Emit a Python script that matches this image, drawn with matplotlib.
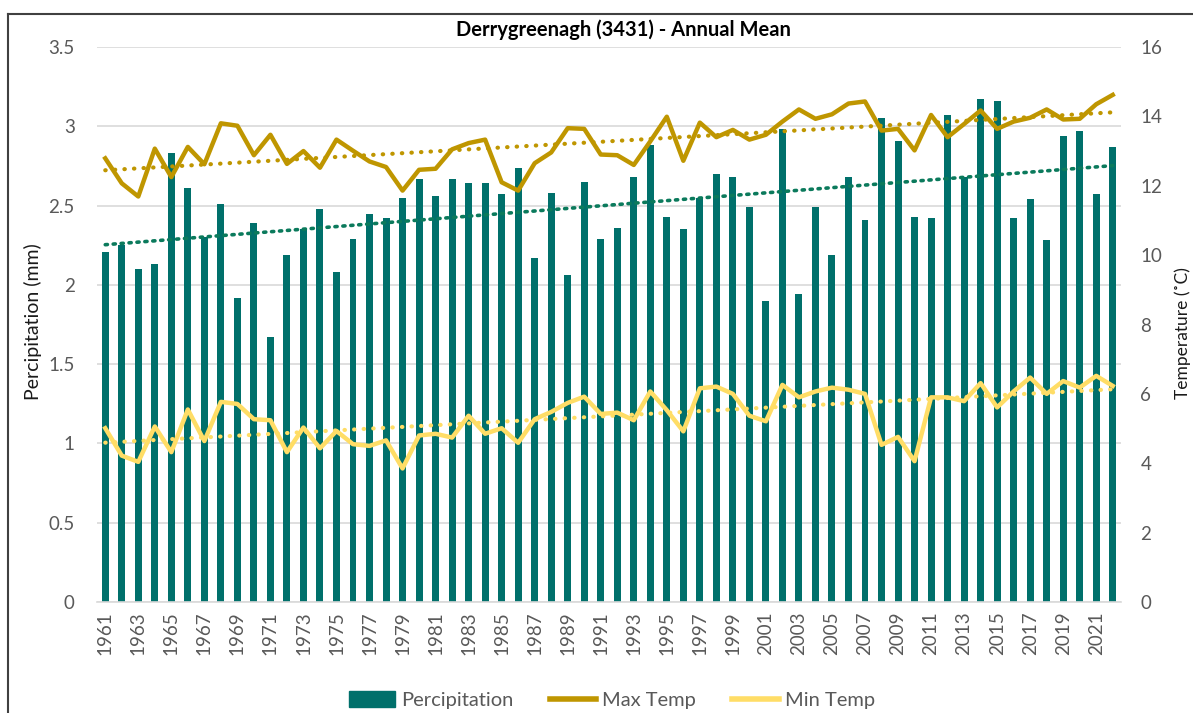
import numpy as np
import matplotlib
matplotlib.use('Agg')
import matplotlib.pyplot as plt
from matplotlib.lines import Line2D
from matplotlib.patches import Patch

years = list(range(1961, 2023))
precip = [2.21, 2.25, 2.10, 2.13, 2.83, 2.61, 2.30, 2.51, 1.92, 2.39,
          1.67, 2.19, 2.35, 2.48, 2.08, 2.29, 2.45, 2.42, 2.55, 2.67,
          2.56, 2.67, 2.64, 2.64, 2.57, 2.74, 2.17, 2.58, 2.06, 2.65,
          2.29, 2.36, 2.68, 2.88, 2.43, 2.35, 2.55, 2.70, 2.68, 2.49,
          1.90, 2.98, 1.94, 2.49, 2.19, 2.68, 2.41, 3.05, 2.91, 2.43,
          2.42, 3.07, 2.68, 3.17, 3.16, 2.42, 2.54, 2.28, 2.94, 2.97,
          2.57, 2.87]
max_temp = [12.79, 12.07, 11.69, 13.07, 12.25, 13.12, 12.62, 13.80, 13.73, 12.88,
            13.47, 12.63, 13.00, 12.52, 13.33, 13.01, 12.70, 12.54, 11.86, 12.46,
            12.49, 13.05, 13.23, 13.33, 12.10, 11.86, 12.65, 12.96, 13.66, 13.64,
            12.90, 12.88, 12.60, 13.28, 13.99, 12.72, 13.82, 13.40, 13.61, 13.33,
            13.47, 13.85, 14.20, 13.93, 14.06, 14.37, 14.43, 13.59, 13.64, 13.02,
            14.04, 13.40, 13.78, 14.17, 13.64, 13.85, 13.96, 14.20, 13.91, 13.93,
            14.35, 14.62]
min_temp = [5.01, 4.22, 4.04, 5.06, 4.32, 5.55, 4.64, 5.77, 5.71, 5.27,
            5.24, 4.32, 5.03, 4.43, 4.93, 4.55, 4.50, 4.66, 3.85, 4.80,
            4.85, 4.74, 5.37, 4.85, 5.01, 4.59, 5.27, 5.48, 5.74, 5.92,
            5.42, 5.46, 5.24, 6.07, 5.53, 4.92, 6.16, 6.21, 6.00, 5.37,
            5.21, 6.26, 5.90, 6.07, 6.18, 6.12, 6.00, 4.53, 4.76, 4.06,
            5.90, 5.90, 5.79, 6.31, 5.61, 6.07, 6.47, 6.00, 6.37, 6.18,
            6.52, 6.23]
left_ticks = [0, 0.5, 1, 1.5, 2, 2.5, 3, 3.5]
left_tick_labels = ['0', '0.5', '1', '1.5', '2', '2.5', '3', '3.5']
right_ticks = [0, 2, 4, 6, 8, 10, 12, 14, 16]

title = 'Derrygreenagh (3431) - Annual Mean'

C_BAR = '#00706B'
C_PTREND = '#0B7A5C'
C_MAX = '#BF9600'
C_MIN = '#FFDD66'
C_TICK = '#595959'

plt.rcParams['font.family'] = ['Lato', 'DejaVu Sans']

W, H = 1193, 713
fig = plt.figure(figsize=(W / 100, H / 100), dpi=100)
L, R, T, B = 97, 1121, 47, 602
ax = fig.add_axes([L / W, 1 - B / H, (R - L) / W, (B - T) / H])

x = np.arange(len(years))
ax.bar(x, precip, width=0.42, color=C_BAR, zorder=2)
p = np.polyfit(x, precip, 1)
ax.plot(x, np.polyval(p, x), color=C_PTREND, lw=2.6, ls=(0, (0.6, 1.6)),
        dash_capstyle='round', zorder=3)
ax.set_ylim(0, 3.5)
ax.set_yticks(left_ticks)
ax.set_yticklabels(left_tick_labels)
ax.set_xlim(-0.5, len(years) - 0.5)
ax.set_xticks(x[::2])
ax.set_xticklabels([str(y) for y in years[::2]], rotation=90)
ax.grid(axis='y', color='#d9d9d9', lw=1.2, zorder=0)
ax.set_axisbelow(True)
for s in ['top', 'left', 'right']:
    ax.spines[s].set_visible(False)
ax.spines['bottom'].set_color('#d9d9d9')
ax.spines['bottom'].set_linewidth(1.2)
ax.tick_params(axis='y', length=0, colors=C_TICK, labelsize=13.5, pad=16)
ax.tick_params(axis='x', length=0, colors=C_TICK, labelsize=13.5, pad=7)

ax2 = ax.twinx()
ax2.set_ylim(0, 16)
ax2.set_yticks(right_ticks)
for s in ['top', 'left', 'right', 'bottom']:
    ax2.spines[s].set_visible(False)
ax2.tick_params(axis='y', length=0, colors=C_TICK, labelsize=13.5, pad=14)
ax2.plot(x, max_temp, color=C_MAX, lw=3.2, zorder=4)
ax2.plot(x, min_temp, color=C_MIN, lw=3.2, zorder=4)
pm = np.polyfit(x, max_temp, 1)
pn = np.polyfit(x, min_temp, 1)
ax2.plot(x, np.polyval(pm, x), color=C_MAX, lw=3, ls=(0, (0.1, 2.2)),
         dash_capstyle='round', zorder=3)
ax2.plot(x, np.polyval(pn, x), color=C_MIN, lw=3, ls=(0, (0.1, 2.2)),
         dash_capstyle='round', zorder=3)

fig.text(623 / W, 1 - 30 / H, title, ha='center', va='center',
         fontsize=14.5, fontweight='bold', color='#000000')
fig.text(33 / W, 1 - 322 / H, 'Percipitation (mm)', rotation=90,
         ha='center', va='center', fontsize=14, color='#1a1a1a')
fig.text(1183 / W, 1 - 333 / H, 'Temperature (˚C)', rotation=90,
         ha='center', va='center', fontsize=12.5, color='#1a1a1a')

handles = [Patch(facecolor=C_BAR, edgecolor=C_BAR),
           Line2D([], [], color=C_MAX, lw=4),
           Line2D([], [], color=C_MIN, lw=4)]
labels = ['Percipitation', 'Max Temp', 'Min Temp']
fig.legend(handles, labels, loc='center', bbox_to_anchor=(612 / W, 1 - 700 / H),
           ncol=3, frameon=False, fontsize=14.5, labelcolor=C_TICK,
           handlelength=2.3, handleheight=0.85, handletextpad=0.3,
           columnspacing=1.8)

fig.add_artist(Line2D([8 / W, 8 / W], [0, 1 - 14 / H], transform=fig.transFigure,
                      color='#404040', lw=1.5))
fig.add_artist(Line2D([8 / W, 1], [1 - 14 / H, 1 - 14 / H], transform=fig.transFigure,
                      color='#404040', lw=1.5))

fig.savefig('out.png', dpi=100)
